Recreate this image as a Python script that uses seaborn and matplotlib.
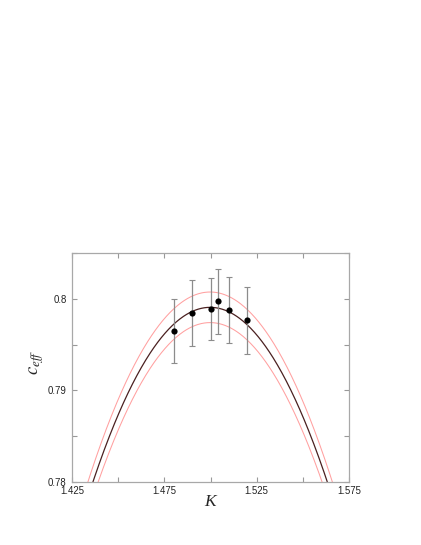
import numpy as np
import pandas as pd
import matplotlib
matplotlib.use("Agg")
import matplotlib.pyplot as plt
import seaborn as sns
from matplotlib.ticker import MultipleLocator, FixedLocator, FixedFormatter

# ---- data ----
K_pts = [1.480, 1.490, 1.500, 1.504, 1.510, 1.520]
c_pts = [0.79648, 0.79843, 0.79887, 0.79971, 0.79880, 0.79764]
c_err = [0.00350, 0.00355, 0.00340, 0.00353, 0.00358, 0.00364]

# quadratic fit  c = peak - curv*(K-center)^2 (central fit and its band)
fit_center = 1.4998
fit_curv = 4.72
fit_peak = 0.79905
band_upper_peak = 0.80072
band_lower_peak = 0.79739

xticks = [1.425, 1.475, 1.525, 1.575]
xticklabels = ["1.425", "1.475", "1.525", "1.575"]
yticks = [0.78, 0.79, 0.80]
yticklabels = ["0.78", "0.79", "0.8"]

sns.set_style("ticks")
plt.rcParams["font.family"] = ["Liberation Sans", "DejaVu Sans"]
plt.rcParams["mathtext.fontset"] = "stix"

fig = plt.figure(figsize=(4.21, 5.45), dpi=100)
ax = fig.add_axes([72 / 421, 62.7 / 545, 277 / 421, 229.6 / 545])

K_fit = np.linspace(1.42, 1.58, 400)
curves = pd.DataFrame({
    "K": np.concatenate([K_fit] * 3),
    "c": np.concatenate([
        band_upper_peak - fit_curv * (K_fit - fit_center) ** 2,
        band_lower_peak - fit_curv * (K_fit - fit_center) ** 2,
        fit_peak - fit_curv * (K_fit - fit_center) ** 2,
    ]),
    "kind": ["upper"] * len(K_fit) + ["lower"] * len(K_fit) + ["fit"] * len(K_fit),
})

sns.lineplot(data=curves[curves.kind != "fit"], x="K", y="c", units="kind",
             estimator=None, color="#ffa0a0", lw=0.75, ax=ax, legend=False)
sns.lineplot(data=curves[curves.kind == "fit"], x="K", y="c",
             estimator=None, color="#4a2020", lw=0.9, ax=ax, legend=False)

ax.errorbar(K_pts, c_pts, yerr=c_err, fmt="none", ecolor="#8c8c8c",
            elinewidth=0.9, capsize=2.2, capthick=0.8, zorder=3)
sns.scatterplot(x=K_pts, y=c_pts, color="black", s=20, edgecolor="black",
                linewidth=0, ax=ax, zorder=4)

ax.set_xlim(1.425, 1.575)
ax.set_ylim(0.78, 0.805)
ax.xaxis.set_major_locator(FixedLocator(xticks))
ax.xaxis.set_major_formatter(FixedFormatter(xticklabels))
ax.xaxis.set_minor_locator(MultipleLocator(0.025))
ax.yaxis.set_major_locator(FixedLocator(yticks))
ax.yaxis.set_major_formatter(FixedFormatter(yticklabels))
ax.yaxis.set_minor_locator(MultipleLocator(0.005))

ax.tick_params(which="both", direction="in", top=True, right=True,
               color="#999999", width=0.8)
ax.tick_params(which="major", length=3.5, labelsize=6.9, labelcolor="#222222")
ax.tick_params(which="minor", length=3.5)
ax.tick_params(axis="y", which="major", pad=4)
ax.tick_params(axis="x", which="major", pad=3)
for s in ax.spines.values():
    s.set_color("#a8a8a8")
    s.set_linewidth(0.9)
ax.set_xlabel("")
ax.set_ylabel("")

fig.text(210.5 / 421, 1 - 502 / 545, "K", fontsize=12.5, style="italic",
         family="Liberation Serif", ha="center", va="center")
fig.text(37 / 421, 1 - 362 / 545, r"$c_{eff}$", fontsize=13.5,
         rotation=90, ha="center", va="center")

fig.savefig("out.png", dpi=100)
